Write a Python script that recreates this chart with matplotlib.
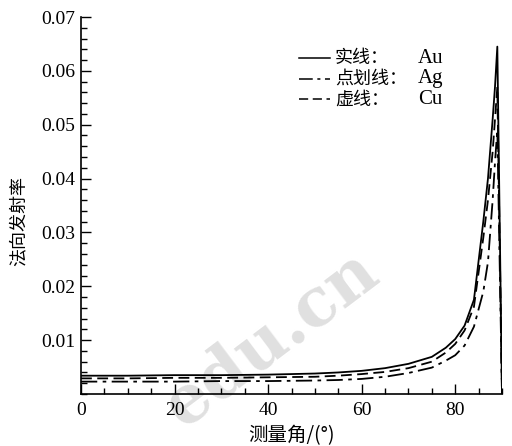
import numpy as np
import matplotlib
matplotlib.use("Agg")
import matplotlib.pyplot as plt
from matplotlib.lines import Line2D
from matplotlib.ticker import MultipleLocator

SERIF = ["Liberation Serif", "Noto Sans CJK SC"]
CJK = ["Noto Sans CJK SC", "Liberation Serif"]

angle = [0, 10, 20, 30, 40, 50, 55, 60, 65, 70, 75, 78, 80,
         82, 84, 86, 87, 88, 88.5, 89, 90]
au = [0.0034, 0.0034, 0.0035, 0.0035, 0.0036, 0.0038, 0.0040, 0.0043,
      0.0048, 0.0056, 0.0069, 0.0086, 0.0102, 0.0127, 0.0175, 0.0320,
      0.0400, 0.0510, 0.0570, 0.0645, 0.0]
cu = [0.0029, 0.0029, 0.0030, 0.0030, 0.0031, 0.0032, 0.0034, 0.0037,
      0.0041, 0.0048, 0.0060, 0.0077, 0.0093, 0.0118, 0.0162, 0.0290,
      0.0360, 0.0450, 0.0510, 0.0570, 0.0]
ag = [0.0023, 0.0023, 0.0023, 0.0024, 0.0024, 0.0025, 0.0026, 0.0028,
      0.0032, 0.0039, 0.0049, 0.0062, 0.0072, 0.0090, 0.0125, 0.0190,
      0.0245, 0.0360, 0.0430, 0.0490, 0.0]

series = [("实线：", "Au", au, "-"),
          ("点划线：", "Ag", ag, (0, (9, 3, 2, 3))),
          ("虚线：", "Cu", cu, (0, (6, 3)))]

fig = plt.figure(figsize=(5.12, 4.46), dpi=100)
ax = fig.add_axes([81 / 512, 1 - 394 / 446, 421 / 512, 377 / 446])

# faint watermark behind everything
fig.text(0.53, 0.24, "edu.cn", fontsize=48, fontweight="bold",
         color="#e0e0e0", rotation=37, ha="center", va="center",
         family="DejaVu Serif", zorder=-5)
ax.patch.set_alpha(0)

for name, metal, vals, ls in series:
    ax.plot(angle, vals, color="black", lw=1.3, linestyle=ls)

ax.set_xlim(0, 90)
ax.set_ylim(0, 0.07)
ax.xaxis.set_major_locator(MultipleLocator(20))
ax.xaxis.set_minor_locator(MultipleLocator(5))
ax.yaxis.set_minor_locator(MultipleLocator(0.002))
ax.set_yticks([0.01, 0.02, 0.03, 0.04, 0.05, 0.06, 0.07])
ax.set_yticklabels(["0.01", "0.02", "0.03", "0.04", "0.05", "0.06", "0.07"])
ax.tick_params(which="both", direction="in", top=False, right=False, width=1)
ax.tick_params(which="major", length=7)
ax.tick_params(which="minor", length=4)
ax.tick_params(axis="y", pad=4)
ax.tick_params(axis="x", pad=6)
for lab in ax.get_xticklabels() + ax.get_yticklabels():
    lab.set_family(SERIF)
    lab.set_fontsize(14)
for side in ["top", "right"]:
    ax.spines[side].set_visible(False)
for side in ["left", "bottom"]:
    ax.spines[side].set_linewidth(1.2)

ax.set_xlabel("测量角/(°)", family=CJK, fontsize=14, labelpad=4)
ax.set_ylabel("法向发射率", family=CJK, fontsize=13)
ax.yaxis.set_label_coords(-0.128, 0.46)

# hand-made legend
rows_y = [0.891, 0.836, 0.782]
for (name, metal, vals, ls), yy in zip(series, rows_y):
    ax.add_line(Line2D([0.518, 0.591], [yy, yy], transform=ax.transAxes,
                       color="black", lw=1.1, linestyle=ls))
    ax.text(0.603, yy, name, transform=ax.transAxes, family=CJK,
            fontsize=13, va="center", ha="left")
    ax.text(0.80, yy, metal, transform=ax.transAxes, family=SERIF,
            fontsize=15, va="center", ha="left")

fig.savefig("out.png", dpi=100)
